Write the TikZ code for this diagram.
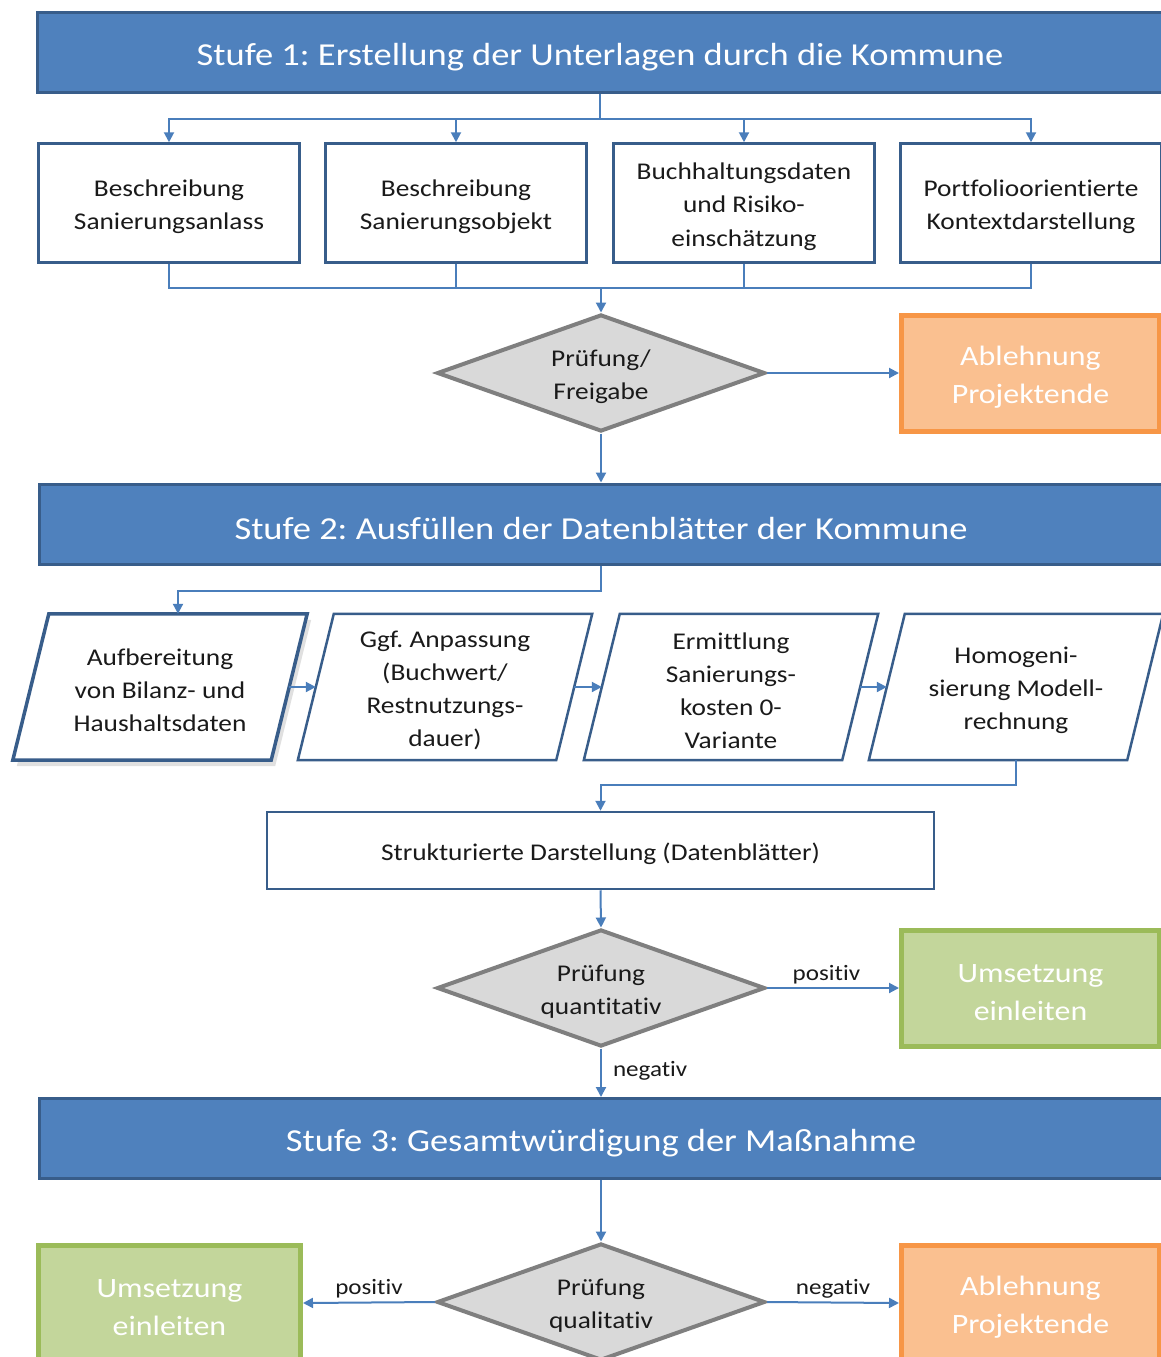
\documentclass[tikz,border=0pt]{standalone}
\usepackage{fontspec}
\setmainfont{Carlito}[FakeStretch=1.14, Ligatures=CommonOff]
\usetikzlibrary{shapes.geometric,arrows.meta,backgrounds}
\definecolor{hdr}{HTML}{4F81BD}
\definecolor{hdrline}{HTML}{385D8A}
\definecolor{conn}{HTML}{4A7EBB}
\definecolor{dgray}{HTML}{D9D9D9}
\definecolor{dline}{HTML}{7F7F7F}
\definecolor{ofill}{HTML}{FAC090}
\definecolor{oline}{HTML}{F79646}
\definecolor{gfill}{HTML}{C3D69B}
\definecolor{gline}{HTML}{9BBB59}
\definecolor{txt}{HTML}{1A1A1A}
\frenchspacing
\newcommand\tdrop{\rule{0pt}{24pt}}
\newcommand\tdropL{\rule{0pt}{27pt}}
\begin{document}
\begin{tikzpicture}[x=1pt,y=-1pt,
  header/.style={draw=hdrline, fill=hdr, line width=3pt, text=white,
    font=\fontsize{32}{38}\selectfont, minimum height=80pt, inner sep=0pt,
    execute at begin node={\rule{0pt}{31pt}}},
  infobox/.style={draw=hdrline, fill=white, line width=2.5pt, text=txt,
    font=\fontsize{24}{33.5}\selectfont, align=center, minimum width=261pt,
    minimum height=119pt, inner sep=0pt},
  pbox/.style={text=txt, font=\fontsize{24}{33}\selectfont, align=center,
    minimum width=258pt, minimum height=146pt, inner sep=0pt},
  pline/.style={draw=hdrline, line width=2.5pt, line join=miter},
  decision/.style={diamond, draw=dline, fill=dgray, line width=4pt, text=txt,
    font=\fontsize{24}{33}\selectfont, align=center, aspect=2.8,
    minimum width=328pt, minimum height=117pt, inner sep=0pt},
  endbox/.style={line width=5pt, text=white, font=\fontsize{28}{38}\selectfont,
    align=center, minimum width=258pt, minimum height=116pt, inner sep=0pt},
  rejectbox/.style={endbox, draw=oline, fill=ofill},
  startbox/.style={endbox, draw=gline, fill=gfill},
  line/.style={draw=conn, line width=2pt},
  arrow/.style={line, -{Triangle[length=10pt,width=10pt]}},
  lbl/.style={text=txt, font=\fontsize{22}{26}\selectfont, inner sep=3pt}
]
\useasboundingbox (0,0) rectangle (1161,1357);

% Stage 1
\node[header, minimum width=1126pt] (h1) at (600,52.5) {Stufe 1: Erstellung der Unterlagen durch die Kommune};
\node[infobox] (b1) at (169,203) {\tdrop Beschreibung\\Sanierungsanlass};
\node[infobox] (b2) at (456,203) {\tdrop Beschreibung\\Sanierungsobjekt};
\node[infobox] (b3) at (744,203) {\tdrop Buchhaltungsdaten\\und Risiko-\\einschätzung};
\node[infobox] (b4) at (1031,203) {\tdrop Portfolioorientierte\\Kontextdarstellung};
\node[decision] (d1) at (601,373) {\tdrop Prüfung/\\Freigabe};
\node[rejectbox] (o1) at (1030.5,373) {\tdropL Ablehnung\\Projektende};

\foreach \b in {b1,b2,b3,b4}
  \draw[arrow] (h1.south) -- ++(0,25) -| (\b.north);
\coordinate (j2) at (601,288);
\foreach \b in {b1,b2,b3,b4}
  \draw[line] (\b.south) |- (j2);
\draw[arrow] (j2) -- (d1.north);
\draw[arrow] (d1.east) -- (o1.west);

% Stage 2
\node[header, minimum width=1124pt] (h2) at (601,524) {Stufe 2: Ausfüllen der Datenblätter der Kommune};
\draw[arrow] (d1.south) -- (h2.north);

\node[pbox] (p1) at (160,687) {\tdrop Aufbereitung\\von Bilanz- und\\Haushaltsdaten};
\node[pbox] (p2) at (445,687) {\tdrop Ggf. Anpassung\\(Buchwert/\\Restnutzungs-\\dauer)};
\node[pbox] (p3) at (731,687) {\tdrop Ermittlung\\Sanierungs-\\kosten 0-\\Variante};
\node[pbox] (p4) at (1016,687) {\tdrop Homogeni-\\sierung Modell-\\rechnung};

\begin{scope}[on background layer]
  \fill[white] (0,0) rectangle (1161,1357);
  \fill[black, opacity=0.12] ([xshift=22pt,yshift=-6pt]p1.north west) -- ([xshift=22pt,yshift=-6pt]p1.north east)
     -- ([xshift=-14pt,yshift=-6pt]p1.south east) -- ([xshift=-14pt,yshift=-6pt]p1.south west) -- cycle;
  \foreach \p in {p1,p2,p3,p4}
    \fill[white] ([xshift=18pt]\p.north west) -- ([xshift=18pt]\p.north east)
      -- ([xshift=-18pt]\p.south east) -- ([xshift=-18pt]\p.south west) -- cycle;
\end{scope}
\draw[pline, line width=3.5pt] ([xshift=18pt]p1.north west) -- ([xshift=18pt]p1.north east)
  -- ([xshift=-18pt]p1.south east) -- ([xshift=-18pt]p1.south west) -- cycle;
\foreach \p in {p2,p3,p4}
  \draw[pline] ([xshift=18pt]\p.north west) -- ([xshift=18pt]\p.north east)
    -- ([xshift=-18pt]\p.south east) -- ([xshift=-18pt]\p.south west) -- cycle;

\draw[arrow] (h2.south) -- ++(0,25) -| ([xshift=18pt]p1.north);
\draw[arrow] (p1.east) -- (p2.west);
\draw[arrow] (p2.east) -- (p3.west);
\draw[arrow] (p3.east) -- (p4.west);

\node[infobox, minimum width=667pt, minimum height=77pt] (s) at (600.5,850.5) {\tdrop Strukturierte Darstellung (Datenblätter)};
\draw[arrow] (p4.south) -- ++(0,25) -| (s.north);

\node[decision] (d2) at (601,988) {\tdrop Prüfung\\quantitativ};
\node[startbox] (g1) at (1030.5,988) {\tdropL Umsetzung\\einleiten};
\draw[arrow] (s.south) -- (d2.north);
\draw[arrow] (d2.east) -- node[lbl, above, pos=0.45] {positiv} (g1.west);

% Stage 3
\node[header, minimum width=1124pt] (h3) at (601,1138.5) {Stufe 3: Gesamtwürdigung der Maßnahme};
\draw[arrow] (d2.south) -- node[lbl, right, pos=0.45, xshift=8pt] {negativ} (h3.north);

\node[decision] (d3) at (601,1302) {\tdrop Prüfung\\qualitativ};
\node[startbox, minimum width=262pt] (g2) at (169.5,1303) {\tdropL Umsetzung\\einleiten};
\node[rejectbox] (o2) at (1030.5,1303) {\tdropL Ablehnung\\Projektende};
\draw[arrow] (h3.south) -- (d3.north);
\draw[arrow] (d3.west) -- node[lbl, above] {positiv} (g2.east);
\draw[arrow] (d3.east) -- node[lbl, above] {negativ} (o2.west);
\end{tikzpicture}
\end{document}
